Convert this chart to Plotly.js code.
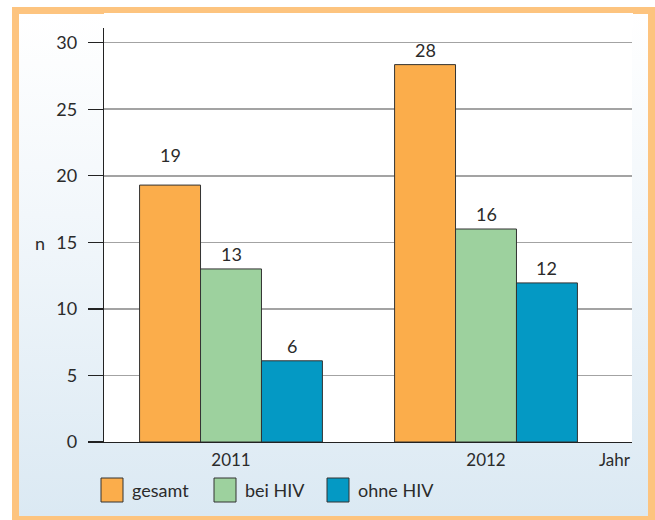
<!DOCTYPE html>
<html>
<head>
<meta charset="utf-8">
<script src="https://cdn.plot.ly/plotly-3.0.1.min.js"></script>
<style>
  html, body { margin: 0; padding: 0; width: 655px; height: 520px; overflow: hidden; background: #ffffff; }
  #frame {
    position: absolute; left: 12px; top: 7px; width: 643px; height: 516px;
    box-sizing: border-box; border: 7px solid #fdc47f;
    background: linear-gradient(to bottom, #ffffff 0%, #f2f7fb 40%, #dbe9f3 100%);
  }
  #chart { position: absolute; left: 0; top: 0; width: 655px; height: 520px; }
</style>
</head>
<body>
<div id="frame"></div>
<div id="chart"></div>
<script>
// ---- data ----
const years = ["2011", "2012"];
const seriesNames = ["gesamt", "bei HIV", "ohne HIV"];
const gesamt = [19.3, 28.35];      // bar heights as drawn
const beiHIV = [13, 16];
const ohneHIV = [6.1, 11.95];
const gesamtLabels = ["19", "28"];
const beiHIVLabels = ["13", "16"];
const ohneHIVLabels = ["6", "12"];
const yTicks = [0, 5, 10, 15, 20, 25, 30];
const yTitle = "n";
const xTitle = "Jahr";

// ---- styles ----
const colors = ["#fbad4b", "#9dd19e", "#0499c4"];
const FONT = "Lato, 'Open Sans', sans-serif";
const TXT = "#2b2b2b";
const FS = 18;

const W = 655, H = 520;
const M = { l: 104, r: 23, t: 28, b: 78 };
const PW = W - M.l - M.r, PH = H - M.t - M.b;
const px2x = p => (p - M.l) / PW;
const px2y = p => (H - M.b - p) / PH;

const values = [gesamt, beiHIV, ohneHIV];
const labels = [gesamtLabels, beiHIVLabels, ohneHIVLabels];

const traces = values.map((v, i) => ({
  type: "bar",
  name: seriesNames[i],
  x: years,
  y: v,
  marker: { color: colors[i], line: { color: "#333333", width: 1 } },
  hoverinfo: "skip"
}));

const barPx = 60.7;
const annotations = [];
values.forEach((v, i) => {
  v.forEach((val, j) => {
    const extra = (i === 0 && j === 0) ? 15 : 0;
    annotations.push({
      x: j, y: val, xref: "x", yref: "y",
      text: labels[i][j], showarrow: false,
      xshift: (i - 1) * barPx, yshift: 2 + extra,
      yanchor: "bottom", xanchor: "center",
      font: { family: FONT, size: FS, color: TXT }
    });
  });
});

annotations.push({
  xref: "paper", yref: "paper", x: px2x(40), y: px2y(243),
  text: yTitle, showarrow: false, xanchor: "center", yanchor: "middle",
  font: { family: FONT, size: FS, color: TXT }
});
annotations.push({
  xref: "paper", yref: "paper", x: px2x(633), y: px2y(459),
  text: xTitle, showarrow: false, xanchor: "right", yanchor: "middle",
  font: { family: FONT, size: FS - 1, color: TXT }
});

// custom legend
const legendSwatchX = [101, 214, 327];
const shapes = [
  { type: "rect", xref: "paper", yref: "paper", x0: 0, x1: px2x(633), y0: 1, y1: px2y(13),
    fillcolor: "#ffffff", line: { width: 0 }, layer: "below" }
];
seriesNames.forEach((name, i) => {
  const x0 = legendSwatchX[i];
  shapes.push({
    type: "rect", xref: "paper", yref: "paper",
    x0: px2x(x0), x1: px2x(x0 + 22), y0: px2y(502), y1: px2y(478),
    fillcolor: colors[i], line: { color: "#333333", width: 1 }
  });
  annotations.push({
    xref: "paper", yref: "paper", x: px2x(x0 + 29), y: px2y(490),
    text: name, showarrow: false, xanchor: "left", yanchor: "middle",
    font: { family: FONT, size: FS, color: TXT }
  });
});

const layout = {
  width: W, height: H,
  margin: M,
  paper_bgcolor: "rgba(0,0,0,0)",
  plot_bgcolor: "#ffffff",
  barmode: "group",
  bargap: 0.283,
  bargroupgap: 0,
  showlegend: false,
  font: { family: FONT, size: FS, color: TXT },
  xaxis: {
    type: "category",
    range: [-0.498, 1.5725],
    showline: true, linecolor: "#222222", linewidth: 1.3,
    ticks: "", showgrid: false, zeroline: false,
    tickfont: { family: FONT, size: FS - 1, color: TXT },
    ticklabelstandoff: 2
  },
  yaxis: {
    range: [0, 31.1],
    tickvals: yTicks,
    ticks: "outside", ticklen: 15, tickwidth: 1.3, tickcolor: "#222222",
    showline: true, linecolor: "#222222", linewidth: 1.3,
    showgrid: true, gridcolor: "#a3a3a3", gridwidth: 1.5,
    zeroline: false,
    tickfont: { family: FONT, size: FS, color: TXT },
    ticklabelstandoff: 7
  },
  annotations: annotations,
  shapes: shapes
};

Plotly.newPlot("chart", traces, layout, { displayModeBar: false, staticPlot: true });
</script>
</body>
</html>
